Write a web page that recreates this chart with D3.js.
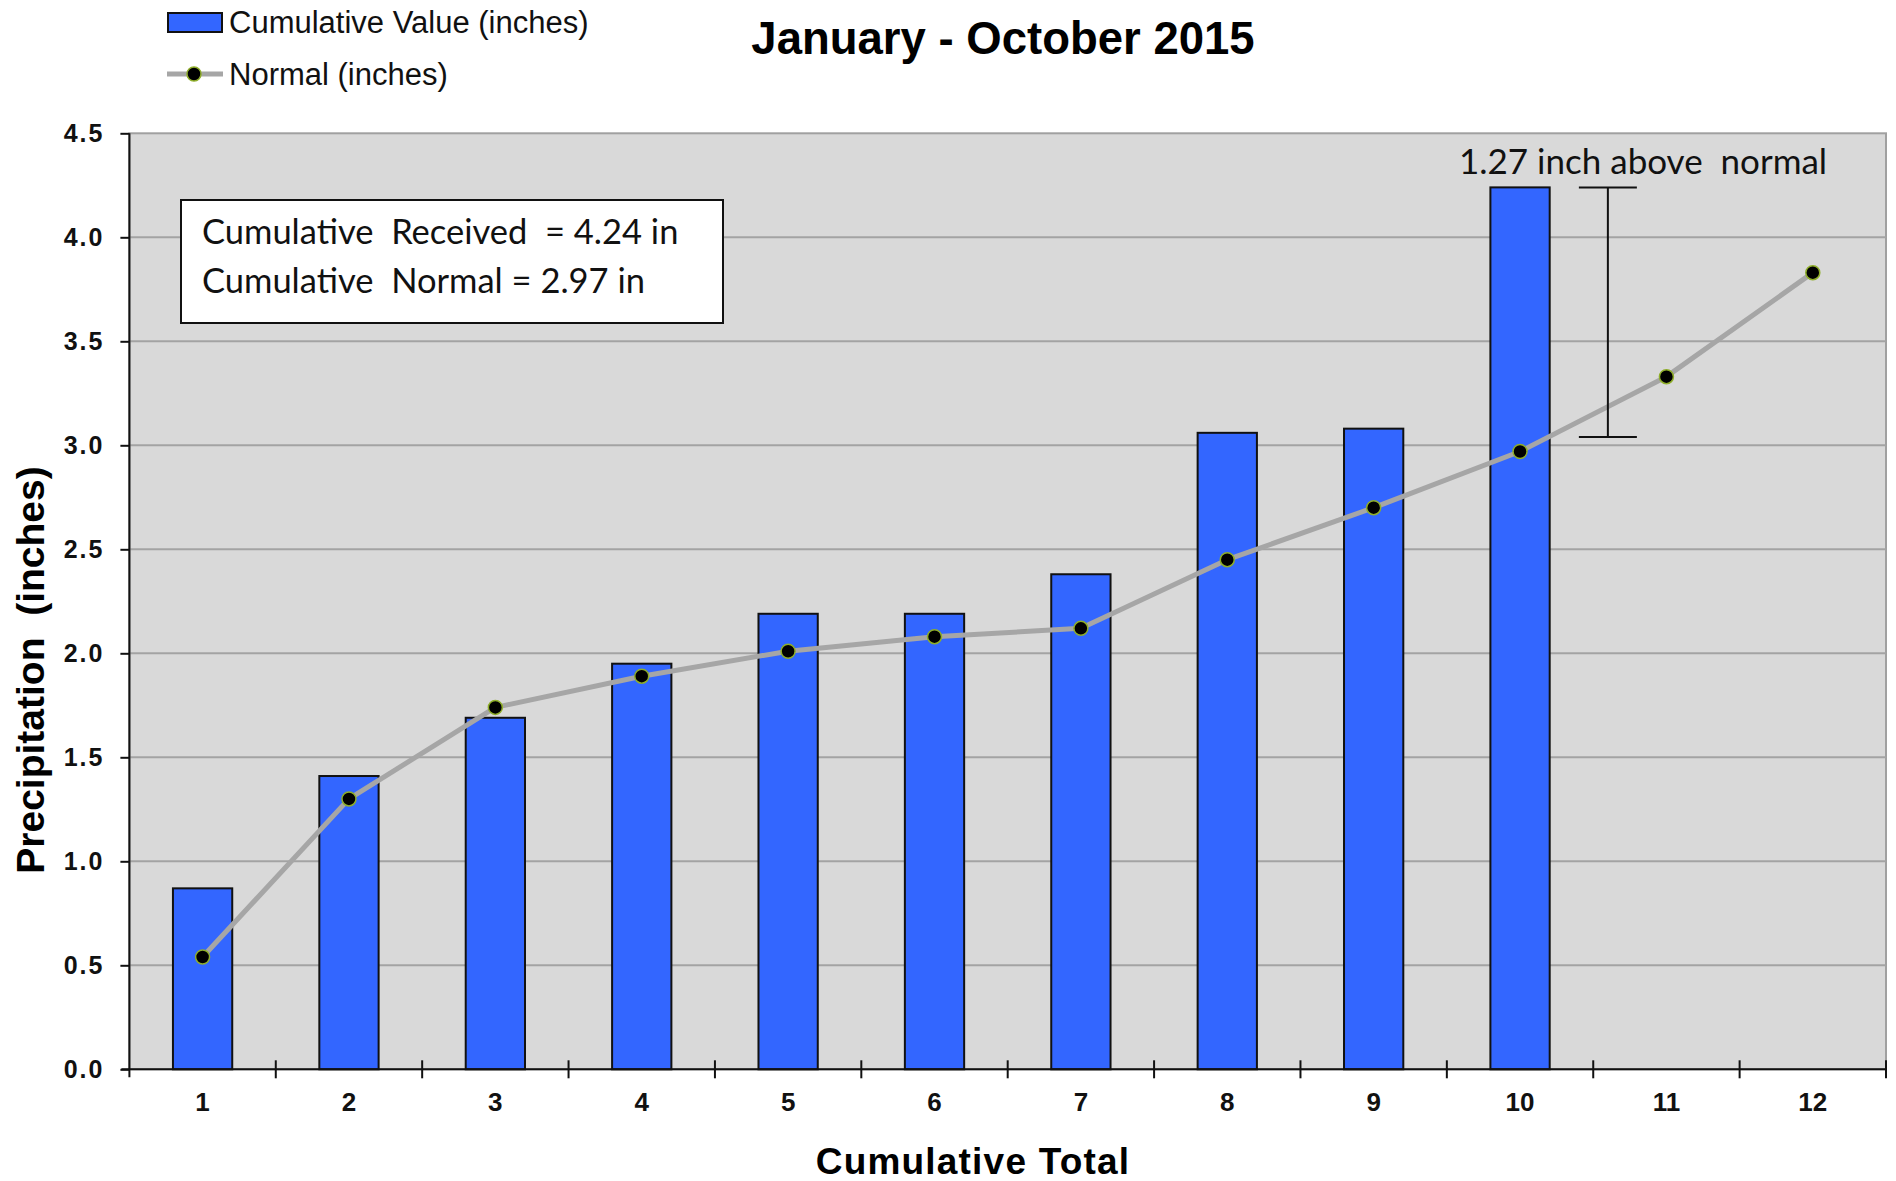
<!DOCTYPE html>
<html>
<head>
<meta charset="utf-8">
<script src="https://cdn.jsdelivr.net/npm/d3@7"></script>
<style>
  html, body { margin: 0; padding: 0; background: #ffffff; }
  svg { display: block; }
  text.pre { white-space: pre; }
</style>
</head>
<body>
<svg id="chart" width="1896" height="1181"></svg>
<script>
// ---- data ----
const categories = ["1","2","3","4","5","6","7","8","9","10","11","12"];
const receivedValues = [0.87, 1.41, 1.69, 1.95, 2.19, 2.19, 2.38, 3.06, 3.08, 4.24];
const normalValues = [0.54, 1.30, 1.74, 1.89, 2.01, 2.08, 2.12, 2.45, 2.70, 2.97, 3.33, 3.83];
const yTickValues = [0.0, 0.5, 1.0, 1.5, 2.0, 2.5, 3.0, 3.5, 4.0, 4.5];
const titleText = "January - October 2015";
const xTitle = "Cumulative Total";
const yTitle = "Precipitation  (inches)";
const legendLabels = ["Cumulative Value (inches)", "Normal (inches)"];
const boxLines = ["Cumulative  Received  = 4.24 in", "Cumulative  Normal = 2.97 in"];
const annotationText = "1.27 inch above  normal";
const bracketValues = [3.04, 4.24];

(function () {
// ---- layout ----
const pL = 129.4, pR = 1886, pT = 133.3, pB = 1069.3;
const svg = d3.select("#chart");

const x = d3.scaleBand().domain(categories).range([pL, pR]).padding(0);
const y = d3.scaleLinear().domain([0, 4.5]).range([pB, pT]);
const barW = x.bandwidth() * 0.405;

// plot background
svg.append("rect")
  .attr("x", pL).attr("y", pT)
  .attr("width", pR - pL).attr("height", pB - pT)
  .attr("fill", "#d9d9d9")
  .attr("stroke", "#a0a0a0").attr("stroke-width", 2);

// gridlines
svg.append("g").selectAll("line")
  .data(yTickValues.filter(v => v > 0 && v < 4.5))
  .join("line")
  .attr("x1", pL).attr("x2", pR)
  .attr("y1", d => y(d)).attr("y2", d => y(d))
  .attr("stroke", "#a3a3a3").attr("stroke-width", 2);

// bars
svg.append("g").selectAll("rect")
  .data(receivedValues)
  .join("rect")
  .attr("x", (d, i) => x(categories[i]) + (x.bandwidth() - barW) / 2)
  .attr("y", d => y(d))
  .attr("width", barW)
  .attr("height", d => y(0) - y(d))
  .attr("fill", "#3366ff")
  .attr("stroke", "#111111").attr("stroke-width", 2);

// normal line
const cx = (i) => x(categories[i]) + x.bandwidth() / 2;
svg.append("path")
  .datum(normalValues)
  .attr("d", d3.line().x((d, i) => cx(i)).y(d => y(d)))
  .attr("fill", "none")
  .attr("stroke", "#a6a6a6").attr("stroke-width", 5)
  .attr("stroke-linejoin", "round");

svg.append("g").selectAll("circle")
  .data(normalValues)
  .join("circle")
  .attr("cx", (d, i) => cx(i))
  .attr("cy", d => y(d))
  .attr("r", 7)
  .attr("fill", "#000000")
  .attr("stroke", "#8fae2a").attr("stroke-width", 1.5);

// y axis
const yAxis = d3.axisLeft(y).tickValues(yTickValues).tickFormat(d3.format(".1f"))
  .tickSize(9).tickPadding(16);
const gy = svg.append("g").attr("transform", `translate(${pL},0)`).call(yAxis);
gy.select(".domain").attr("stroke", "#111").attr("stroke-width", 2)
  .attr("d", `M0,${pT}V${pB + 8}`);
gy.selectAll(".tick line").attr("stroke", "#111").attr("stroke-width", 2);
gy.selectAll(".tick text")
  .attr("font-family", "'Liberation Sans', Arial, sans-serif")
  .attr("font-weight", "bold").attr("font-size", 25)
  .attr("letter-spacing", 2)
  .attr("fill", "#111");

// x axis: ticks at category boundaries
const gx = svg.append("g");
gx.append("line")
  .attr("x1", pL - 8).attr("x2", pR)
  .attr("y1", pB).attr("y2", pB)
  .attr("stroke", "#111").attr("stroke-width", 2);
gx.selectAll("line.tk")
  .data(categories)
  .join("line").attr("class", "tk")
  .attr("x1", d => x(d) + x.bandwidth()).attr("x2", d => x(d) + x.bandwidth())
  .attr("y1", pB - 9).attr("y2", pB + 9)
  .attr("stroke", "#111").attr("stroke-width", 2);
gx.selectAll("text")
  .data(categories)
  .join("text")
  .attr("x", d => x(d) + x.bandwidth() / 2)
  .attr("y", 1111)
  .attr("text-anchor", "middle")
  .attr("font-family", "'Liberation Sans Narrow', 'Liberation Sans', Arial, sans-serif")
  .attr("font-weight", "bold").attr("font-size", 26)
  .attr("fill", "#111")
  .text(d => d);

// axis titles
svg.append("text")
  .attr("x", 973).attr("y", 1174)
  .attr("text-anchor", "middle")
  .attr("font-family", "'Liberation Sans', Arial, sans-serif")
  .attr("font-weight", "bold").attr("font-size", 37)
  .attr("letter-spacing", 1.2)
  .attr("fill", "#000")
  .text(xTitle);

svg.append("text")
  .attr("class", "pre")
  .attr("transform", "translate(44,670) rotate(-90)")
  .attr("text-anchor", "middle")
  .attr("font-family", "'Liberation Sans', Arial, sans-serif")
  .attr("font-weight", "bold").attr("font-size", 39)
  .attr("fill", "#000")
  .text(yTitle);

// title
svg.append("text")
  .attr("x", 1003).attr("y", 54)
  .attr("text-anchor", "middle")
  .attr("font-family", "'Liberation Sans', Arial, sans-serif")
  .attr("font-weight", "bold").attr("font-size", 45.5)
  .attr("fill", "#000")
  .text(titleText);

// legend
const lg = svg.append("g");
lg.append("rect")
  .attr("x", 168).attr("y", 13).attr("width", 54).attr("height", 19)
  .attr("fill", "#3366ff").attr("stroke", "#111").attr("stroke-width", 2);
lg.append("text")
  .attr("x", 229).attr("y", 33)
  .attr("font-family", "'Liberation Sans', Arial, sans-serif")
  .attr("font-size", 31).attr("fill", "#111")
  .text(legendLabels[0]);
lg.append("line")
  .attr("x1", 167).attr("x2", 223).attr("y1", 74).attr("y2", 74)
  .attr("stroke", "#a6a6a6").attr("stroke-width", 5);
lg.append("circle")
  .attr("cx", 194).attr("cy", 74).attr("r", 7)
  .attr("fill", "#000").attr("stroke", "#8fae2a").attr("stroke-width", 1.5);
lg.append("text")
  .attr("x", 229).attr("y", 85)
  .attr("font-family", "'Liberation Sans', Arial, sans-serif")
  .attr("font-size", 31).attr("fill", "#111")
  .text(legendLabels[1]);

// info box
svg.append("rect")
  .attr("x", 181).attr("y", 200).attr("width", 542).attr("height", 123)
  .attr("fill", "#ffffff").attr("stroke", "#111").attr("stroke-width", 2);
svg.append("g").selectAll("text")
  .data(boxLines)
  .join("text")
  .attr("class", "pre")
  .attr("x", 202)
  .attr("y", (d, i) => 244 + i * 49)
  .attr("font-family", "Lato, 'Open Sans', sans-serif")
  .attr("font-size", 34.5).attr("fill", "#111")
  .text(d => d);

// bracket annotation
const bx = x("10") + x.bandwidth() * 1.1;
const bk = svg.append("g").attr("stroke", "#111").attr("stroke-width", 2);
bk.append("line").attr("x1", bx).attr("x2", bx)
  .attr("y1", y(bracketValues[1])).attr("y2", y(bracketValues[0]));
bk.selectAll("line.cap")
  .data(bracketValues)
  .join("line").attr("class", "cap")
  .attr("x1", bx - 29).attr("x2", bx + 29)
  .attr("y1", d => y(d)).attr("y2", d => y(d));

svg.append("text")
  .attr("class", "pre")
  .attr("x", 1459).attr("y", 174)
  .attr("font-family", "Lato, 'Open Sans', sans-serif")
  .attr("font-size", 35).attr("fill", "#111")
  .text(annotationText);
})();
</script>
</body>
</html>
